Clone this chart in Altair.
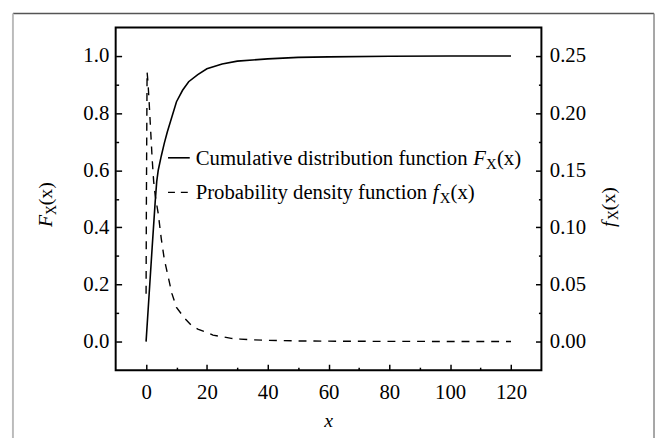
import altair as alt
import pandas as pd

# ---- data ----
x_cdf = [0, 1, 2, 3, 3.5, 4, 5, 6, 7, 8, 10, 12, 14, 17, 20, 25, 30, 40, 50, 60, 80, 100, 120]
F_vals = [0, 0.165, 0.33, 0.49, 0.56, 0.6, 0.65, 0.695, 0.735, 0.77, 0.84, 0.88, 0.91, 0.935,
          0.955, 0.972, 0.982, 0.99, 0.995, 0.997, 0.999, 1.0, 1.0]

x_pdf = [0, 0.1, 0.33, 0.6, 1, 1.5, 2, 2.5, 3, 4, 5, 6, 7, 8.5, 10, 12.5, 15, 17, 20, 22, 25,
         28, 31, 34, 40, 50, 60, 70, 80, 90, 100, 110, 120]
f_vals = [0.042, 0.12, 0.236, 0.228, 0.21, 0.185, 0.16, 0.14, 0.128, 0.112, 0.09, 0.072, 0.06,
          0.042, 0.03, 0.021, 0.014, 0.011, 0.008, 0.0057, 0.0043, 0.0028, 0.0022, 0.0017,
          0.0011, 0.0006, 0.0004, 0.0003, 0.0002, 0.0002, 0.0001, 0.0001, 0.0001]

x_ticks = [0, 20, 40, 60, 80, 100, 120]
x_minor = [10, 30, 50, 70, 90, 110]
l_ticks = [0.0, 0.2, 0.4, 0.6, 0.8, 1.0]
l_minor = [0.1, 0.3, 0.5, 0.7, 0.9]
r_ticks = [0.0, 0.05, 0.10, 0.15, 0.20, 0.25]
r_minor = [0.025, 0.075, 0.125, 0.175, 0.225]

legend_cdf = "Cumulative distribution function"
legend_pdf = "Probability density function"

cdf_df = pd.DataFrame({"x": x_cdf, "F": F_vals})
pdf_df = pd.DataFrame({"x": x_pdf, "f": f_vals})

FONT = "Liberation Serif"
FS = 21
W, H = 431, 347

xs = alt.Scale(domain=[-10, 130], nice=False, zero=False)
ls = alt.Scale(domain=[-0.1, 1.1], nice=False, zero=False)
rs = alt.Scale(domain=[-0.025, 0.275], nice=False, zero=False)

lab = dict(labelFont=FONT, labelFontSize=FS, labelColor="black", title=None, domain=False, grid=False)
tk = dict(labels=False, tickWidth=1.5, tickColor="black", title=None, domain=False, grid=False)

cdf = alt.Chart(cdf_df).mark_line(color="black", strokeWidth=1.6).encode(
    x=alt.X("x:Q", scale=xs, axis=alt.Axis(orient="bottom", values=x_ticks, ticks=False, labelPadding=12,
                                           format="d", **lab)),
    y=alt.Y("F:Q", scale=ls, axis=alt.Axis(orient="left", values=l_ticks, ticks=False, labelPadding=7,
                                            format=".1f", **lab)),
)

pdf = alt.Chart(pdf_df).mark_line(color="black", strokeWidth=1.4, strokeDash=[8, 7]).encode(
    x=alt.X("x:Q", scale=xs, axis=alt.Axis(orient="bottom", values=x_ticks, offset=-6, tickSize=6, **tk)),
    y=alt.Y("f:Q", scale=rs, axis=alt.Axis(orient="right", values=r_ticks, ticks=False, labelPadding=8,
                                            format=".2f", **lab)),
)


def tick_layer(xvals, xsize, lvals, lsize, scale, orient):
    return alt.Chart(cdf_df).mark_line(strokeOpacity=0).encode(
        x=alt.X("x:Q", scale=xs,
                axis=(alt.Axis(orient="bottom", values=xvals, offset=-xsize, tickSize=xsize, **tk)
                      if xvals else None)),
        y=alt.Y("F:Q", scale=scale,
                axis=alt.Axis(orient=orient, values=lvals, offset=-lsize, tickSize=lsize, **tk)),
    )


t1 = tick_layer(x_minor, 3, l_ticks, 6, ls, "left")
t2 = tick_layer(None, 0, l_minor, 3, ls, "left")
t3 = tick_layer(None, 0, r_ticks, 6, rs, "right")
t4 = tick_layer(None, 0, r_minor, 3, rs, "right")


def txt(s, x, y, size=FS, style="normal", angle=0, dx=0, dy=0, baseline="alphabetic", align="left"):
    kw = dict(font=FONT, fontSize=size, fontStyle=style, color="black", align=align,
              baseline=baseline, dx=dx, dy=dy)
    if angle:
        kw["angle"] = angle
    return alt.Chart(pd.DataFrame({"t": [s]})).mark_text(**kw).encode(
        x=alt.value(x), y=alt.value(y), text="t:N")


TS = 20
# x title
xt = txt("x", W / 2, 405, size=TS, style="italic", align="center")
# left y title  F_X(x)
lx, ly = -64, 202
yl = [txt("F", lx, ly, TS, "italic", 270, dx=0),
      txt("X", lx, ly, 14, "normal", 270, dx=12, dy=4),
      txt("(x)", lx, ly, TS, "normal", 270, dx=22)]
# right y title f_X(x)
rx, ry = 505, 202
yr = [txt("f", rx, ry, TS, "italic", 270, dx=0),
      txt("X", rx, ry, 14, "normal", 270, dx=7, dy=4),
      txt("(x)", rx, ry, TS, "normal", 270, dx=17)]

# legend
r1, r2 = 132, 167
tx = 81
leg_lines = [
    alt.Chart(pd.DataFrame({"a": [0]})).mark_rule(color="black", strokeWidth=1.6).encode(
        x=alt.value(53), x2=alt.value(75), y=alt.value(r1)),
    alt.Chart(pd.DataFrame({"a": [0]})).mark_rule(color="black", strokeWidth=1.4, strokeDash=[7, 6]).encode(
        x=alt.value(53), x2=alt.value(75), y=alt.value(r2)),
]
m1 = tx + 281
m2 = tx + 240
leg_text = [
    txt(legend_cdf, tx, r1 + 7, FS),
    txt("F", m1, r1 + 7, FS, "italic"),
    txt("X", m1 + 13, r1 + 11, 15),
    txt("(x)", m1 + 24, r1 + 7, FS),
    txt(legend_pdf, tx, r2 + 7, FS),
    txt("f", m2, r2 + 7, FS, "italic"),
    txt("X", m2 + 7, r2 + 11, 15),
    txt("(x)", m2 + 18, r2 + 7, FS),
]

# outer figure border
border = [
    alt.Chart(pd.DataFrame({"a": [0]})).mark_rule(color="#555555", strokeWidth=1.5).encode(
        x=alt.value(-104), x2=alt.value(545), y=alt.value(-14)),
    alt.Chart(pd.DataFrame({"a": [0]})).mark_rule(color="#bbbbbb", strokeWidth=2).encode(
        x=alt.value(-104), y=alt.value(-14), y2=alt.value(440)),
    alt.Chart(pd.DataFrame({"a": [0]})).mark_rule(color="#888888", strokeWidth=1.5).encode(
        x=alt.value(545), y=alt.value(-14), y2=alt.value(440)),
]

chart = alt.layer(cdf, pdf, t1, t2, t3, t4, xt, *yl, *yr, *leg_lines, *leg_text, *border).resolve_scale(
    y="independent"
).resolve_axis(x="independent", y="independent").properties(
    width=W, height=H,
    autosize=alt.AutoSizeParams(type="none"),
    padding={"left": 109, "top": 17, "right": 115, "bottom": 66},
).configure(background="white").configure_view(stroke="black", strokeWidth=2)

chart.save("out.html", embed_options={"renderer": "svg", "actions": False})
